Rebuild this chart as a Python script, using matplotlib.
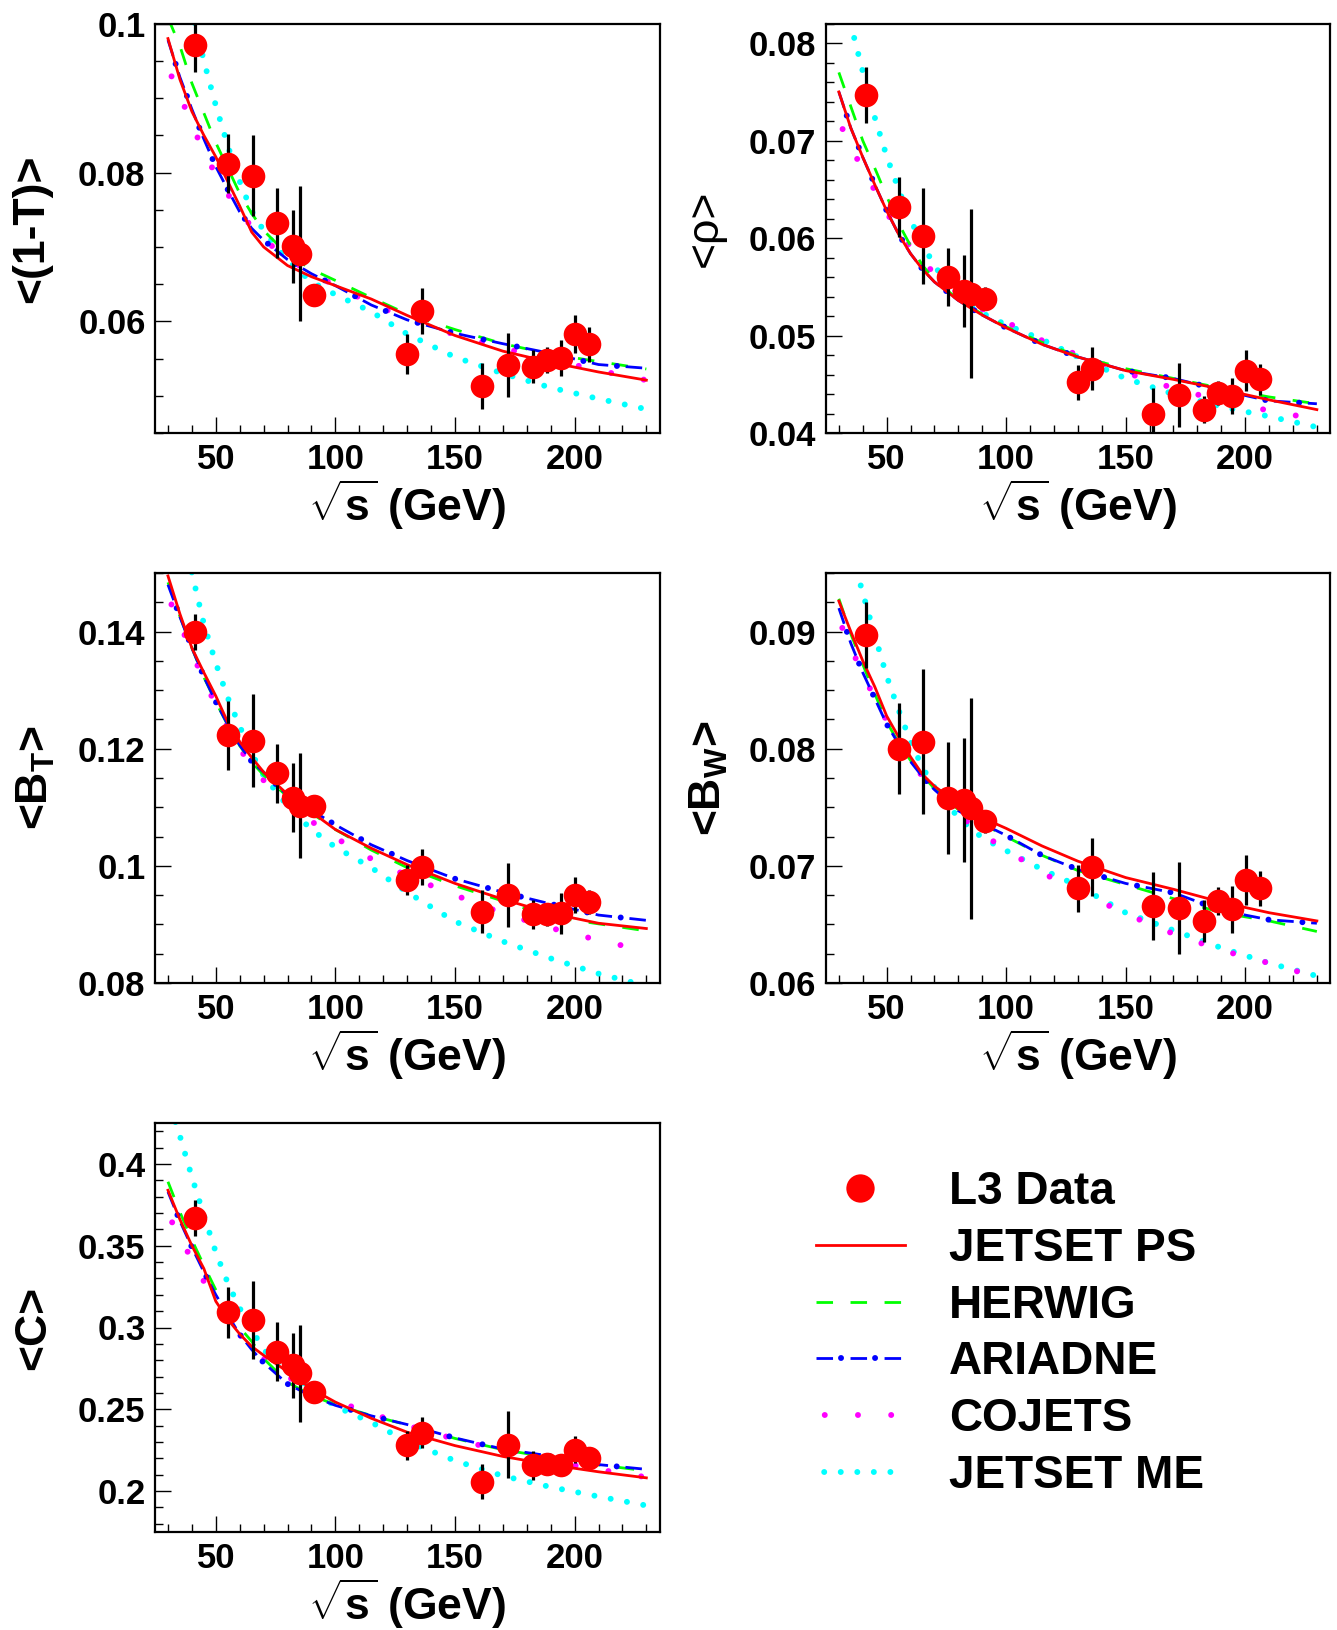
import numpy as np
import matplotlib
matplotlib.use('Agg')
import matplotlib.pyplot as plt
from matplotlib.ticker import MultipleLocator, FuncFormatter

plt.rcParams['font.family'] = ['Liberation Sans', 'DejaVu Sans']
plt.rcParams['font.weight'] = 'bold'
plt.rcParams['axes.labelweight'] = 'bold'
plt.rcParams['mathtext.fontset'] = 'custom'
plt.rcParams['mathtext.rm'] = 'Liberation Sans:bold'
plt.rcParams['mathtext.bf'] = 'Liberation Sans:bold'
plt.rcParams['mathtext.it'] = 'Liberation Sans:bold'
plt.rcParams['lines.scale_dashes'] = False

# L3 data energies and MC grid (GeV)
sqrt_s = [41.4, 55.3, 65.4, 75.7, 82.3, 85.1, 91.2, 130.1, 136.1, 161.3, 172.3, 182.8, 188.6, 194.4, 200.2, 206.2]
mc_s = [30, 35, 40, 45, 50, 55, 60, 65, 70, 80, 90, 100, 115, 130, 150, 170, 190, 210, 230]

# <1-T>
thr = [0.0971, 0.0812, 0.0796, 0.0732, 0.0701, 0.0691, 0.0636, 0.0556, 0.0614, 0.0513, 0.0542, 0.0539, 0.0548, 0.0551, 0.0583, 0.0569]
thr_err = [0.0036, 0.0040, 0.0054, 0.0047, 0.0049, 0.0091, 0.0010, 0.0027, 0.0031, 0.0031, 0.0043, 0.0022, 0.0018, 0.0024, 0.0026, 0.0023]
thr_jps = [0.0980, 0.0925, 0.0882, 0.0850, 0.0821, 0.0788, 0.0755, 0.0720, 0.0700, 0.0675, 0.0660, 0.0648, 0.0630, 0.0608, 0.0581, 0.0560, 0.0545, 0.0532, 0.0521]
thr_her = [0.1008, 0.0970, 0.0920, 0.0880, 0.0840, 0.0806, 0.0772, 0.0745, 0.0722, 0.0690, 0.0670, 0.0655, 0.0632, 0.0610, 0.0589, 0.0570, 0.0556, 0.0546, 0.0536]
thr_ari = [0.0978, 0.0928, 0.0885, 0.0845, 0.0808, 0.0777, 0.0747, 0.0725, 0.0709, 0.0683, 0.0664, 0.0648, 0.0622, 0.0602, 0.0584, 0.0570, 0.0557, 0.0542, 0.0537]
thr_coj = [0.0940, 0.0904, 0.0864, 0.0828, 0.0797, 0.0771, 0.0747, 0.0727, 0.0710, 0.0685, 0.0665, 0.0648, 0.0624, 0.0604, 0.0582, 0.0564, 0.0549, 0.0534, 0.0521]
thr_jme = [0.1140, 0.1080, 0.1017, 0.0950, 0.0890, 0.0836, 0.0788, 0.0748, 0.0722, 0.0682, 0.0653, 0.0636, 0.0613, 0.0583, 0.0552, 0.0530, 0.0511, 0.0496, 0.0482]

# <rho>
rho = [0.0747, 0.0632, 0.0602, 0.0560, 0.0546, 0.0543, 0.0538, 0.0452, 0.0466, 0.0420, 0.0439, 0.0424, 0.0441, 0.0438, 0.0464, 0.0455]
rho_err = [0.0029, 0.0031, 0.0049, 0.0030, 0.0037, 0.0087, 0.0012, 0.0018, 0.0022, 0.0026, 0.0033, 0.0014, 0.0012, 0.0018, 0.0021, 0.0016]
rho_jps = [0.0750, 0.0713, 0.0683, 0.0655, 0.0628, 0.0604, 0.0584, 0.0568, 0.0555, 0.0536, 0.0521, 0.0508, 0.0491, 0.0478, 0.0464, 0.0455, 0.0445, 0.0434, 0.0424]
rho_her = [0.0770, 0.0735, 0.0700, 0.0672, 0.0643, 0.0615, 0.0592, 0.0572, 0.0557, 0.0537, 0.0522, 0.0509, 0.0493, 0.0479, 0.0466, 0.0456, 0.0446, 0.0437, 0.0430]
rho_ari = [0.0750, 0.0713, 0.0683, 0.0655, 0.0628, 0.0604, 0.0584, 0.0568, 0.0555, 0.0536, 0.0521, 0.0508, 0.0491, 0.0478, 0.0464, 0.0456, 0.0444, 0.0433, 0.0430]
rho_coj = [0.0720, 0.0694, 0.0670, 0.0649, 0.0626, 0.0607, 0.0591, 0.0576, 0.0564, 0.0543, 0.0527, 0.0514, 0.0495, 0.0480, 0.0462, 0.0446, 0.0433, 0.0423, 0.0414]
rho_jme = [0.0850, 0.0819, 0.0771, 0.0724, 0.0684, 0.0650, 0.0618, 0.0595, 0.0571, 0.0542, 0.0523, 0.0511, 0.0496, 0.0478, 0.0456, 0.0440, 0.0427, 0.0417, 0.0406]

# <B_T>
bt = [0.1399, 0.1223, 0.1214, 0.1158, 0.1116, 0.1103, 0.1102, 0.0976, 0.0998, 0.0922, 0.0950, 0.0917, 0.0917, 0.0919, 0.0950, 0.0938]
bt_err = [0.0031, 0.0059, 0.0080, 0.0050, 0.0059, 0.0089, 0.0010, 0.0025, 0.0031, 0.0036, 0.0055, 0.0025, 0.0020, 0.0035, 0.0031, 0.0021]
bt_jps = [0.1495, 0.1430, 0.1372, 0.1330, 0.1290, 0.1245, 0.1212, 0.1185, 0.1160, 0.1122, 0.1092, 0.1062, 0.1030, 0.1002, 0.0970, 0.0943, 0.0919, 0.0902, 0.0893]
bt_her = [0.1484, 0.1426, 0.1372, 0.1322, 0.1280, 0.1240, 0.1205, 0.1177, 0.1155, 0.1118, 0.1090, 0.1062, 0.1027, 0.0997, 0.0966, 0.0940, 0.0913, 0.0901, 0.0889]
bt_ari = [0.1480, 0.1425, 0.1372, 0.1323, 0.1280, 0.1241, 0.1206, 0.1178, 0.1160, 0.1120, 0.1095, 0.1070, 0.1036, 0.1009, 0.0978, 0.0955, 0.0935, 0.0916, 0.0907]
bt_coj = [0.1460, 0.1413, 0.1364, 0.1317, 0.1275, 0.1236, 0.1200, 0.1170, 0.1146, 0.1104, 0.1076, 0.1048, 0.1012, 0.0983, 0.0950, 0.0919, 0.0894, 0.0873, 0.0855]
bt_jme = [0.1680, 0.1590, 0.1500, 0.1413, 0.1346, 0.1287, 0.1238, 0.1192, 0.1154, 0.1102, 0.1062, 0.1032, 0.0997, 0.0955, 0.0905, 0.0871, 0.0842, 0.0816, 0.0795]

# <B_W>
bw = [0.0897, 0.0800, 0.0806, 0.0758, 0.0756, 0.0749, 0.0738, 0.0681, 0.0699, 0.0666, 0.0664, 0.0653, 0.0670, 0.0663, 0.0688, 0.0681]
bw_err = [0.0028, 0.0039, 0.0062, 0.0048, 0.0053, 0.0094, 0.0010, 0.0020, 0.0025, 0.0029, 0.0039, 0.0018, 0.0012, 0.0020, 0.0021, 0.0015]
bw_jps = [0.0926, 0.0900, 0.0875, 0.0853, 0.0828, 0.0810, 0.0793, 0.0778, 0.0768, 0.0753, 0.0741, 0.0732, 0.0717, 0.0704, 0.0690, 0.0680, 0.0669, 0.0660, 0.0653]
bw_her = [0.0928, 0.0898, 0.0872, 0.0847, 0.0823, 0.0805, 0.0790, 0.0777, 0.0766, 0.0748, 0.0736, 0.0725, 0.0709, 0.0696, 0.0684, 0.0672, 0.0660, 0.0653, 0.0644]
bw_ari = [0.0920, 0.0890, 0.0865, 0.0843, 0.0821, 0.0804, 0.0789, 0.0776, 0.0765, 0.0747, 0.0736, 0.0726, 0.0709, 0.0697, 0.0685, 0.0677, 0.0662, 0.0654, 0.0651]
bw_coj = [0.0910, 0.0886, 0.0864, 0.0843, 0.0824, 0.0807, 0.0791, 0.0776, 0.0765, 0.0744, 0.0727, 0.0714, 0.0694, 0.0679, 0.0659, 0.0642, 0.0628, 0.0617, 0.0605]
bw_jme = [0.1000, 0.0970, 0.0933, 0.0897, 0.0862, 0.0833, 0.0806, 0.0784, 0.0767, 0.0741, 0.0724, 0.0713, 0.0697, 0.0683, 0.0660, 0.0645, 0.0630, 0.0617, 0.0606]

# <C>
cp = [0.3668, 0.3092, 0.3046, 0.2851, 0.2768, 0.2721, 0.2603, 0.2280, 0.2356, 0.2058, 0.2284, 0.2157, 0.2165, 0.2161, 0.2253, 0.2202]
cp_err = [0.0110, 0.0155, 0.0240, 0.0180, 0.0200, 0.0296, 0.0030, 0.0090, 0.0095, 0.0105, 0.0206, 0.0090, 0.0060, 0.0060, 0.0082, 0.0060]
cp_jps = [0.3839, 0.3660, 0.3500, 0.3360, 0.3160, 0.3050, 0.2960, 0.2884, 0.2830, 0.2730, 0.2625, 0.2544, 0.2445, 0.2360, 0.2278, 0.2212, 0.2161, 0.2118, 0.2081]
cp_her = [0.3891, 0.3705, 0.3535, 0.3380, 0.3230, 0.3110, 0.3000, 0.2915, 0.2810, 0.2665, 0.2585, 0.2528, 0.2462, 0.2405, 0.2322, 0.2253, 0.2205, 0.2160, 0.2124]
cp_ari = [0.3829, 0.3650, 0.3490, 0.3340, 0.3200, 0.3076, 0.2958, 0.2865, 0.2785, 0.2655, 0.2580, 0.2524, 0.2460, 0.2407, 0.2325, 0.2257, 0.2214, 0.2162, 0.2133]
cp_coj = [0.3690, 0.3555, 0.3412, 0.3282, 0.3165, 0.3048, 0.2955, 0.2876, 0.2810, 0.2700, 0.2613, 0.2551, 0.2475, 0.2401, 0.2318, 0.2245, 0.2182, 0.2132, 0.2085]
cp_jme = [0.4400, 0.4170, 0.3920, 0.3686, 0.3460, 0.3272, 0.3118, 0.2990, 0.2863, 0.2735, 0.2625, 0.2518, 0.2420, 0.2304, 0.2186, 0.2093, 0.2025, 0.1967, 0.1912]

W, H = 1337, 1630
fig = plt.figure(figsize=(W / 100, H / 100), dpi=100)


def fmt(v, pos):
    return '%g' % round(v, 4)


def panel(rect, data, err, mc, ylabel, ylim, major, minor, lab_x, lab_weight='bold'):
    ax = fig.add_axes([rect[0] / W, 1 - rect[3] / H, (rect[2] - rect[0]) / W, (rect[3] - rect[1]) / H])
    jps, her, ari, coj, jme = mc
    h = {}
    h['jme'], = ax.plot(mc_s, jme, color='#00ffff', lw=4.3, linestyle=(6.0, (0.01, 11.9)),
                        dash_capstyle='round')
    h['coj'], = ax.plot(mc_s, coj, color='#ff00ff', lw=4.3, linestyle=(17.6, (0.01, 23.9)),
                        dash_capstyle='round')
    h['her'], = ax.plot(mc_s, her, color='#00ff00', lw=2.0, linestyle=(0, (11.9, 12.6)))
    h['ari'], = ax.plot(mc_s, ari, color='#0000ff', lw=2.0, linestyle=(0, (11.9, 12.6)))
    h['arid'], = ax.plot(mc_s, ari, color='#0000ff', lw=4.3, linestyle=(6.5, (0.01, 24.5)),
                         dash_capstyle='round')
    h['jps'], = ax.plot(mc_s, jps, color='#ff0000', lw=2.0)
    ax.errorbar(sqrt_s, data, yerr=err, fmt='none', ecolor='black', elinewidth=2.3, capsize=0, zorder=4)
    h['data'], = ax.plot(sqrt_s, data, 'o', color='#ff0000', ms=17, mec='none', zorder=5)

    ax.set_xlim(24.7, 235.5)
    ax.set_ylim(*ylim)
    ax.xaxis.set_major_locator(MultipleLocator(50))
    ax.xaxis.set_minor_locator(MultipleLocator(10))
    ax.yaxis.set_major_locator(MultipleLocator(major))
    ax.yaxis.set_minor_locator(MultipleLocator(minor))
    ax.yaxis.set_major_formatter(FuncFormatter(fmt))
    ax.tick_params(which='both', direction='in', top=False, right=False, labelsize=25, width=1.0)
    ax.tick_params(which='major', length=11.5, pad=7)
    ax.tick_params(which='minor', length=5.8)
    for s in ax.spines.values():
        s.set_linewidth(1.6)
    ax.set_xlabel(r'$\sqrt{\mathbf{s}}$ (GeV)', fontsize=32, fontweight='bold', labelpad=1.5)
    ax.set_ylabel(ylabel, fontsize=32, fontweight=lab_weight)
    ax.yaxis.set_label_coords(lab_x, 0.5)
    return h


col1 = (155.3, 659.5)
col2 = (826.2, 1330.0)
rows = [(23.7, 433.0), (573.0, 983.0), (1123.0, 1532.0)]

h = panel((col1[0], rows[0][0], col1[1], rows[0][1]), thr, thr_err,
          (thr_jps, thr_her, thr_ari, thr_coj, thr_jme), '<(1-T)>', (0.045, 0.1), 0.02, 0.005, -0.205)
panel((col2[0], rows[0][0], col2[1], rows[0][1]), rho, rho_err,
      (rho_jps, rho_her, rho_ari, rho_coj, rho_jme), '<ρ>', (0.04, 0.082), 0.01, 0.002, -0.2, 'normal')
panel((col1[0], rows[1][0], col1[1], rows[1][1]), bt, bt_err,
      (bt_jps, bt_her, bt_ari, bt_coj, bt_jme), r'<B$_{\mathbf{T}}$>', (0.08, 0.15), 0.02, 0.005, -0.195)
panel((col2[0], rows[1][0], col2[1], rows[1][1]), bw, bw_err,
      (bw_jps, bw_her, bw_ari, bw_coj, bw_jme), r'<B$_{\mathbf{W}}$>', (0.06, 0.095), 0.01, 0.0025, -0.19)
panel((col1[0], rows[2][0], col1[1], rows[2][1]), cp, cp_err,
      (cp_jps, cp_her, cp_ari, cp_coj, cp_jme), '<C>', (0.175, 0.425), 0.05, 0.01, -0.2)

fig.legend(handles=[h['data'], h['jps'], h['her'], (h['ari'], h['arid']), h['coj'], h['jme']],
           labels=['L3 Data', 'JETSET PS', 'HERWIG', 'ARIADNE', 'COJETS', 'JETSET ME'],
           loc='upper left', bbox_to_anchor=(816 / W, 1 - 1170 / H), frameon=False,
           prop={'size': 33, 'weight': 'bold'}, handlelength=1.94, handletextpad=0.96,
           labelspacing=0.28, borderpad=0, borderaxespad=0, markerscale=1.2)

fig.savefig('out.png', dpi=100)
